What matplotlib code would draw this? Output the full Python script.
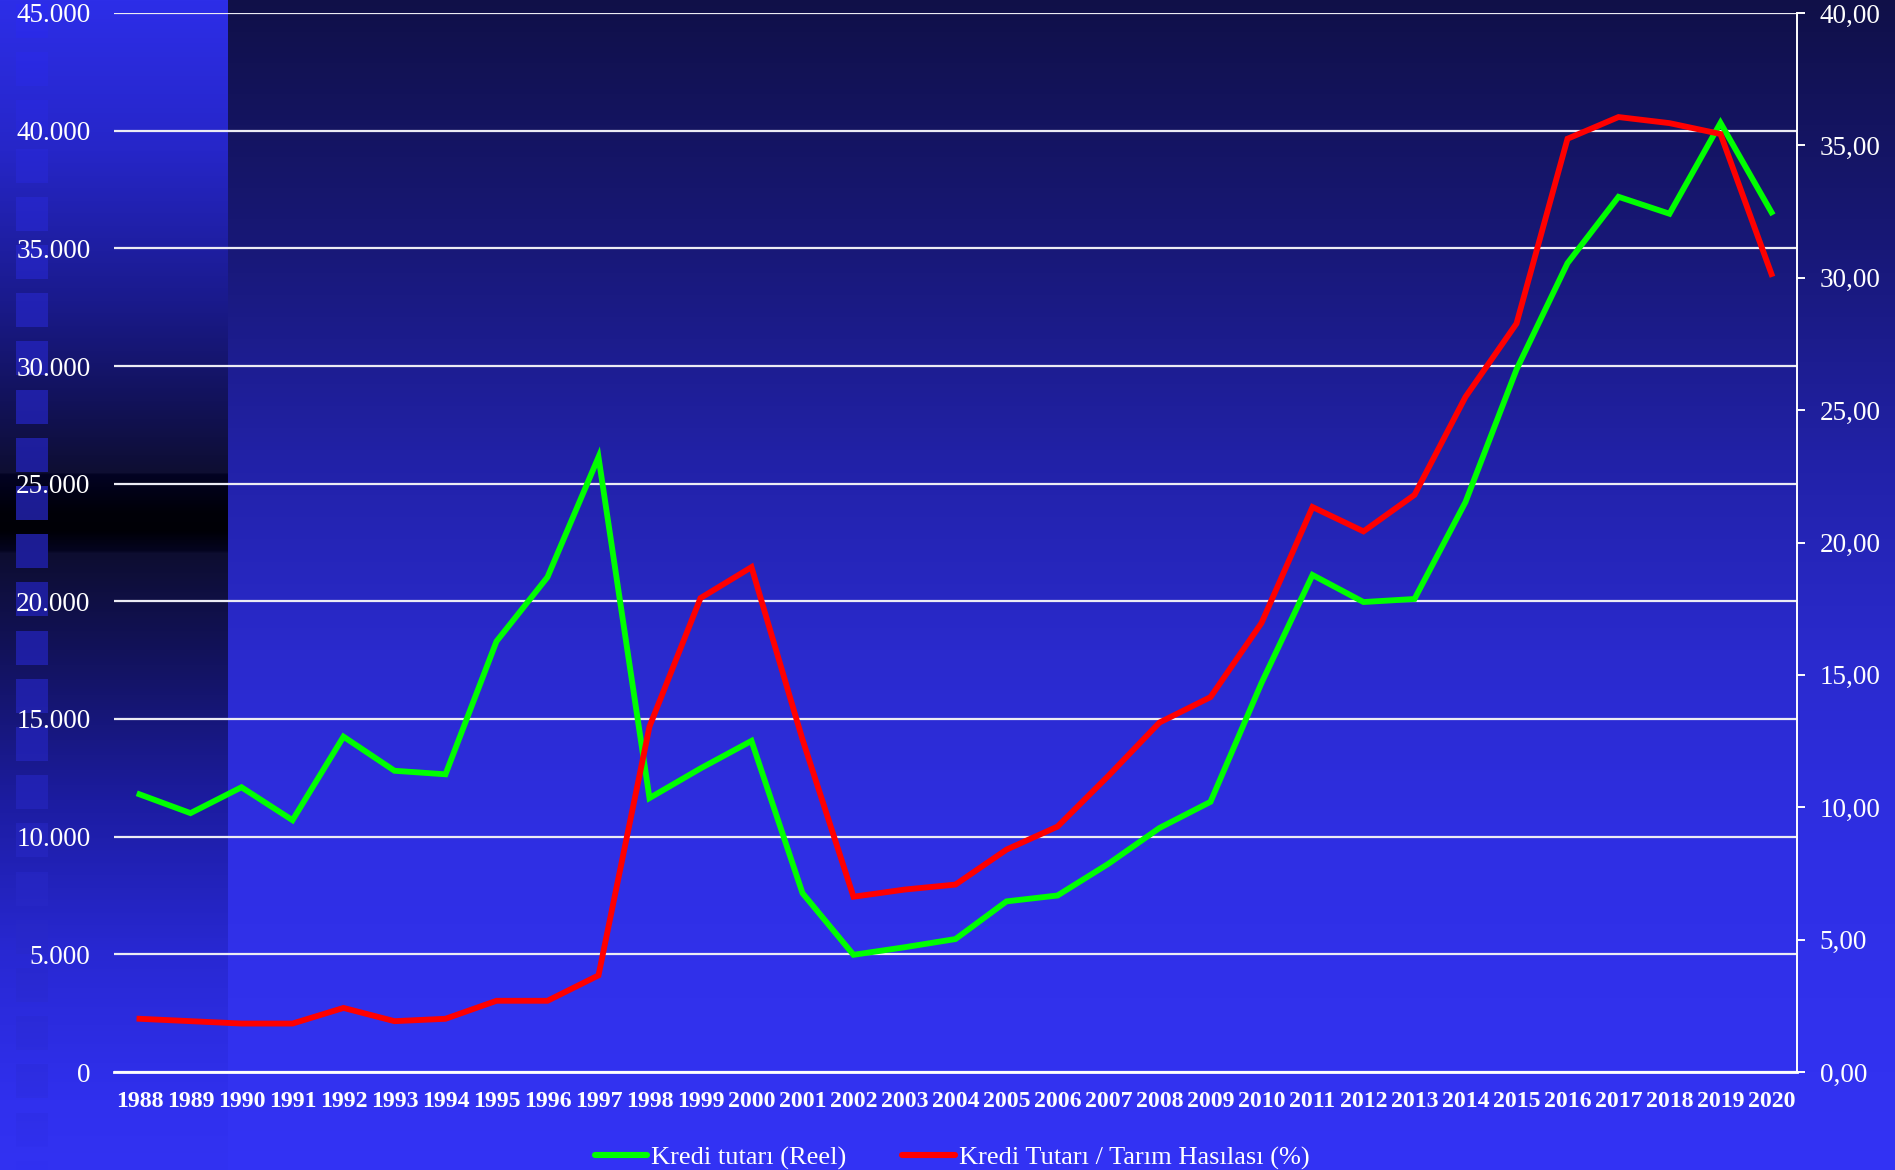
import numpy as np
import matplotlib
matplotlib.use('Agg')
import matplotlib.pyplot as plt
from matplotlib.lines import Line2D

# ---------------- data ----------------
years = [str(y) for y in range(1988, 2021)]
kredi_reel = [11800, 11000, 12100, 10700, 14250, 12800, 12650, 18300, 21030, 26130,
              11640, 12900, 14070, 7600, 4980, 5300, 5650, 7250, 7500, 8850,
              10370, 11480, 16530, 21120, 19970, 20100, 24220, 29850, 34370, 37190,
              36470, 40330, 36530]
kredi_orani = [2.01, 1.92, 1.83, 1.83, 2.42, 1.92, 2.01, 2.69, 2.69, 3.65,
               13.05, 17.90, 19.07, 12.56, 6.62, 6.89, 7.08, 8.40, 9.27, 11.19,
               13.20, 14.16, 16.96, 21.34, 20.42, 21.80, 25.50, 28.27, 35.25, 36.07,
               35.84, 35.43, 30.14]
left_ticks = [0, 5000, 10000, 15000, 20000, 25000, 30000, 35000, 40000, 45000]
left_labels = ['0', '5.000', '10.000', '15.000', '20.000', '25.000', '30.000',
               '35.000', '40.000', '45.000']
right_ticks = [0, 5, 10, 15, 20, 25, 30, 35, 40]
right_labels = ['0,00', '5,00', '10,00', '15,00', '20,00', '25,00', '30,00',
                '35,00', '40,00']
series_labels = ['Kredi tutarı (Reel)', 'Kredi Tutarı / Tarım Hasılası (%)']

# ---------------- figure & background ----------------
W, H = 1895, 1170
SERIF = 'Liberation Serif'
fig = plt.figure(figsize=(W / 100, H / 100), dpi=100)

yy = np.arange(H)


def grad(stops):
    ys = [s[0] for s in stops]
    cols = np.array([s[1] for s in stops], dtype=float) / 255.0
    return np.stack([np.interp(yy, ys, cols[:, i]) for i in range(3)], axis=1)


main_bg = grad([(0, (16, 16, 72)), (250, (24, 24, 120)), (450, (33, 33, 165)),
                (650, (42, 42, 205)), (850, (47, 47, 228)), (1072, (50, 50, 240)),
                (1170, (51, 51, 245))])
strip_bg = grad([(0, (45, 46, 232)), (150, (38, 38, 200)), (300, (26, 26, 140)),
                 (400, (18, 18, 90)), (472, (14, 14, 50)), (474, (3, 3, 35)),
                 (512, (0, 0, 8)), (530, (0, 0, 6)), (550, (4, 4, 32)),
                 (553, (13, 13, 48)), (650, (18, 18, 90)), (800, (28, 28, 160)),
                 (950, (40, 40, 210)), (1100, (48, 48, 238)), (1170, (50, 50, 242))])
square_c = grad([(0, (44, 44, 238)), (300, (34, 34, 180)), (520, (28, 28, 145)),
                 (800, (34, 34, 180)), (1170, (49, 49, 242))])

img = np.repeat(main_bg[:, None, :], W, axis=1)
img[:, :228, :] = strip_bg[:, None, :]
for k in range(26):
    y0 = int(round(4 + 48.2 * k))
    y1 = min(H, y0 + 34)
    if y0 >= H:
        break
    img[y0:y1, 16:48, :] = square_c[y0:y1, None, :]

bg = fig.add_axes([0, 0, 1, 1], zorder=-10)
bg.imshow(img, aspect='auto', extent=[0, 1, 0, 1], origin='upper',
          interpolation='nearest')
bg.set_xlim(0, 1)
bg.set_ylim(0, 1)
bg.set_axis_off()

# ---------------- axes ----------------
L, R, T, B = 114, 1797, 13, 1072
ax = fig.add_axes([L / W, (H - B) / H, (R - L) / W, (B - T) / H])
ax.patch.set_alpha(0)
x = np.arange(len(years))

ax.set_xlim(-0.5, len(years) - 0.5)
ax.set_ylim(0, 45000)
ax.set_yticks(left_ticks)
ax.set_yticklabels(left_labels, family=SERIF, fontsize=19.5, color='white')
ax.set_xticks(x)
ax.set_xticklabels(years, family=SERIF, fontsize=17.2, fontweight='bold',
                   color='white')
ax.tick_params(axis='y', length=0, pad=17)
ax.tick_params(axis='x', length=0, pad=13.5)
ax.yaxis.grid(True, color='#ececf4', lw=1.6)
ax.set_axisbelow(True)
for s in ['left', 'top', 'right']:
    ax.spines[s].set_visible(False)
ax.spines['bottom'].set_color('white')
ax.spines['bottom'].set_linewidth(2.0)

ax.plot(x, kredi_reel, color='#00ff00', lw=4.2, solid_joinstyle='miter',
        zorder=3)

ax2 = ax.twinx()
ax2.set_ylim(0, 40)
ax2.set_yticks(right_ticks)
ax2.set_yticklabels(right_labels, family=SERIF, fontsize=19.5, color='white')
ax2.tick_params(axis='y', length=5.8, width=1.4, color='white', pad=10.5)
for s in ['left', 'top', 'bottom']:
    ax2.spines[s].set_visible(False)
ax2.spines['right'].set_color('white')
ax2.spines['right'].set_linewidth(1.4)
ax2.plot(x, kredi_orani, color='#ff0000', lw=4.2, solid_joinstyle='miter',
         zorder=3)

# ---------------- legend ----------------
handles = [Line2D([], [], color='#00ff00', lw=4.4, solid_capstyle='round'),
           Line2D([], [], color='#ff0000', lw=4.4, solid_capstyle='round')]
leg = fig.legend(handles, series_labels, loc='center',
                 bbox_to_anchor=(952 / W, 1 - 1158 / H), ncol=2, frameon=False,
                 prop={'family': SERIF, 'size': 19}, handlelength=2.0,
                 handletextpad=0.15, columnspacing=2.1, borderpad=0)
for t in leg.get_texts():
    t.set_color('white')

fig.savefig('out.png', dpi=100)
